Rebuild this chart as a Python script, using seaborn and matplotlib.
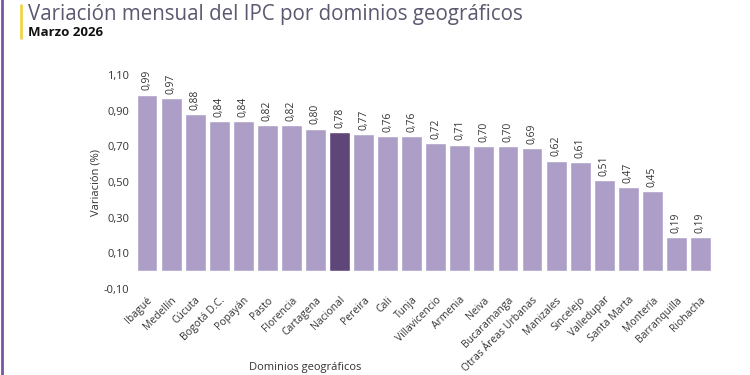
import pandas as pd
import matplotlib.pyplot as plt
import seaborn as sns
from matplotlib.lines import Line2D

dominios = ['Ibagué', 'Medellín', 'Cúcuta', 'Bogotá D.C.', 'Popayán', 'Pasto', 'Florencia',
            'Cartagena', 'Nacional', 'Pereira', 'Cali', 'Tunja', 'Villavicencio', 'Armenia',
            'Neiva', 'Bucaramanga', 'Otras Áreas Urbanas', 'Manizales', 'Sincelejo',
            'Valledupar', 'Santa Marta', 'Montería', 'Barranquilla', 'Riohacha']
variacion = [0.99, 0.97, 0.88, 0.84, 0.84, 0.82, 0.82, 0.80, 0.78, 0.77, 0.76, 0.76, 0.72,
             0.71, 0.70, 0.70, 0.69, 0.62, 0.61, 0.51, 0.47, 0.45, 0.19, 0.19]
yticks = [-0.10, 0.10, 0.30, 0.50, 0.70, 0.90, 1.10]

df = pd.DataFrame({'dominio': dominios, 'variacion': variacion})
colores = ['#5f4678' if d == 'Nacional' else '#ad9ec8' for d in dominios]

sns.set_style('white')
plt.rcParams['font.family'] = ['Open Sans', 'DejaVu Sans']

fig = plt.figure(figsize=(7.5, 3.75), dpi=100)
ax = fig.add_axes([0.180, 0.229, 0.770, 0.571])

sns.barplot(data=df, x='dominio', y='variacion', hue='dominio', palette=colores,
            width=0.87, legend=False, saturation=1, ax=ax)

for cont in ax.containers:
    ax.bar_label(cont, labels=[f'{v:.2f}'.replace('.', ',') for v in cont.datavalues],
                 rotation=90, padding=3, fontsize=7.5, color='#333333')

ax.set_ylim(-0.10, 1.10)
ax.set_xlim(-0.5, len(dominios) - 0.5)
ax.set_yticks(yticks)
ax.set_yticklabels([f'{t:.2f}'.replace('.', ',') for t in yticks], fontsize=8, color='#333333')
ax.set_xticks(range(len(dominios)))
ax.set_xticklabels(dominios, rotation=45, ha='right', rotation_mode='anchor',
                   fontsize=7.5, color='#333333')
ax.tick_params(axis='both', length=0, pad=4)
ax.set_xlabel('')
ax.set_ylabel('Variación (%)', fontsize=8, color='#333333', labelpad=2)
sns.despine(ax=ax, left=True, bottom=True)

fig.text(305 / 750, 2 / 375, 'Dominios geográficos', ha='center', va='bottom',
         fontsize=8, color='#333333')

fig.text(28 / 750, 1 - 4 / 375, 'Variación mensual del IPC por dominios geográficos',
         ha='left', va='top', fontsize=14.8, color='#5d5870')
fig.text(28 / 750, 1 - 26 / 375, 'Marzo 2026', ha='left', va='top', fontsize=9.5,
         fontweight='bold', color='#111111')

fig.add_artist(Line2D([2 / 750, 2 / 750], [0, 1], color='#7b55a3', lw=2))
fig.add_artist(Line2D([21 / 750, 21 / 750], [1 - 5 / 375, 1 - 38 / 375], color='#f1d44a', lw=2))

plt.savefig('out.png', dpi=100)
plt.close()
